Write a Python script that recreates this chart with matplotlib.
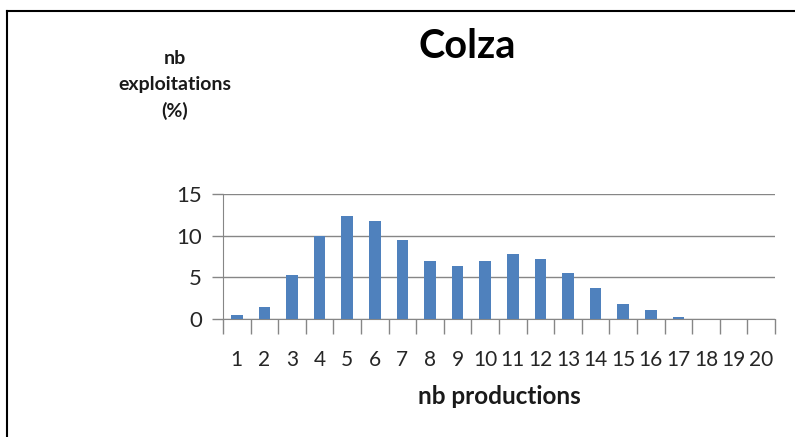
import matplotlib
matplotlib.use("Agg")
import matplotlib.pyplot as plt
from matplotlib.lines import Line2D
import numpy as np

categories = [str(i) for i in range(1, 21)]
values = [0.5, 1.4, 5.3, 10.0, 12.4, 11.8, 9.5, 7.0, 6.4, 7.0,
          7.8, 7.2, 5.5, 3.7, 1.8, 1.1, 0.25, 0.0, 0.0, 0.0]
yticks = [0, 5, 10, 15]

plt.rcParams['font.family'] = ['Lato', 'DejaVu Sans']

W, H = 795, 437
fig = plt.figure(figsize=(W / 100, H / 100), dpi=100)
ax = fig.add_axes([223 / W, 1 - 319 / H, (775 - 223) / W, (319 - 194) / H])

x = np.arange(len(categories))
ax.bar(x, values, width=0.42, color='#4F81BD', zorder=3)
ax.set_xlim(-0.5, len(categories) - 0.5)
ax.set_ylim(0, 15)
ax.set_yticks(yticks)
ax.set_yticklabels([str(v) for v in yticks], fontsize=16, color='#262626')
ax.set_xticks(x)
ax.set_xticklabels(categories, fontsize=15, color='#262626')
ax.tick_params(axis='x', length=0, pad=22)
ax.tick_params(axis='y', length=8, color='#868686', width=1, pad=7)
ax.set_xticks(np.arange(-0.5, len(categories) + 0.5, 1), minor=True)
ax.tick_params(axis='x', which='minor', length=11, color='#868686', width=1, direction='out')
ax.grid(axis='y', color='#868686', linewidth=1, zorder=0)
for s in ['top', 'right']:
    ax.spines[s].set_visible(False)
ax.spines['left'].set_color('#868686')
ax.spines['bottom'].set_color('#868686')

fig.text(467 / W, 1 - 47 / H, 'Colza', fontsize=28.5, fontweight='bold', ha='center', va='center')
fig.text(175 / W, 1 - 85 / H, 'nb\nexploitations\n(%)', fontsize=14, fontweight='bold',
         ha='center', va='center', linespacing=1.6, color='#1a1a1a')
fig.text(499 / W, 1 - 397 / H, 'nb productions', fontsize=17.5, fontweight='bold',
         ha='center', va='center', color='#1a1a1a')

# frame (left and top edges visible)
fig.add_artist(Line2D([7 / W, 7 / W], [0, 1 - 11 / H], color='black', linewidth=1.5,
                      transform=fig.transFigure))
fig.add_artist(Line2D([7 / W, 1], [1 - 11 / H, 1 - 11 / H], color='black', linewidth=1.5,
                      transform=fig.transFigure))

fig.savefig('out.png', dpi=100)
